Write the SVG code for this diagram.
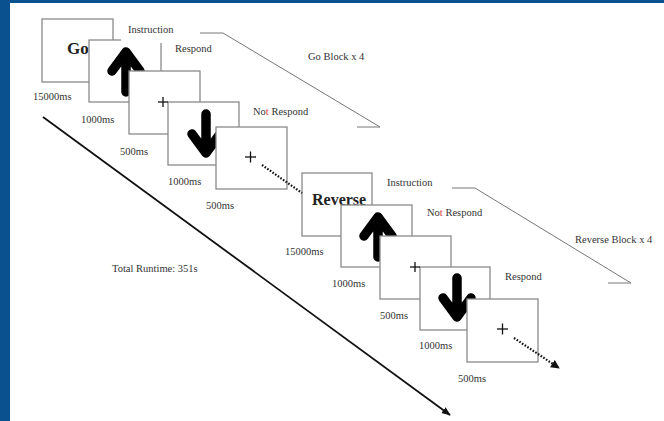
<svg xmlns="http://www.w3.org/2000/svg" width="664" height="421" viewBox="0 0 664 421">
<defs>
<style>
.box{fill:#fff;stroke:#8a8a8a;stroke-width:1.3}
.t{font-family:"Liberation Serif","Times New Roman",serif;font-size:10.5px;fill:#333}
.big{font-family:"Liberation Serif","Times New Roman",serif;font-weight:bold;fill:#222}
.arr{fill:none;stroke:#000;stroke-width:9.5;stroke-linecap:round;stroke-linejoin:round}
.plus{stroke:#111;stroke-width:1.3}
.br{fill:none;stroke:#777;stroke-width:1}
.dot{fill:none;stroke:#111;stroke-width:2.2;stroke-dasharray:1.6 1.6}
.red{fill:#e23b3b}
</style>
<marker id="ah" viewBox="0 0 10 10" refX="9" refY="5" markerWidth="4" markerHeight="4" orient="auto">
<path d="M0,0 L10,5 L0,10 z" fill="#111"/>
</marker>
<marker id="ah2" viewBox="0 0 10 10" refX="9" refY="5" markerWidth="5" markerHeight="5" orient="auto">
<path d="M0,1 L10,5 L0,9 z" fill="#111"/>
</marker>
</defs>
<rect x="0" y="0" width="664" height="421" fill="#fff"/>
<rect x="0" y="0" width="664" height="3" fill="#0a5190"/>
<rect x="0" y="0" width="10" height="421" fill="#0a5190"/>

<g id="go-block">
<g id="go-instruction">
<rect class="box" x="42" y="19" width="71" height="63"/>
<text class="big" x="67" y="54" font-size="17">Go</text>
<text class="t" x="33" y="100">15000ms</text>
</g>
<g id="go-up">
<rect class="box" x="89" y="40" width="72" height="62"/>
<rect x="121" y="16" width="78" height="27" fill="#fff"/>
<text class="t" x="128" y="33">Instruction</text>
<path class="arr" d="M126,92 L126,53 M112,71 L126,52 L140,71"/>
<text class="t" x="175" y="52">Respond</text>
<text class="t" x="81" y="123">1000ms</text>
</g>
<g id="go-fix1">
<rect class="box" x="129" y="71" width="71" height="63"/>
<text class="t" x="120" y="155">500ms</text>
</g>
<g id="go-down">
<rect class="box" x="168" y="102" width="71" height="63"/>
<line class="plus" x1="158" y1="102" x2="168" y2="102"/>
<line class="plus" x1="163" y1="97" x2="163" y2="107"/>
<path class="arr" d="M206,114 L206,152 M192,134 L206,153 L220,134"/>
<text class="t" x="253" y="115">No<tspan class="red">t</tspan> Respond</text>
<text class="t" x="168" y="185">1000ms</text>
</g>
<g id="go-fix2">
<rect class="box" x="216" y="127" width="71" height="62"/>
<line class="plus" x1="245" y1="157" x2="256" y2="157"/>
<line class="plus" x1="250.5" y1="151.5" x2="250.5" y2="162.5"/>
<text class="t" x="206" y="209">500ms</text>
</g>
<text class="t" x="308" y="60">Go Block x 4</text>
</g>

<g id="reverse-block">
<g id="rev-instruction">
<rect class="box" x="302" y="173" width="70" height="63"/>
<text class="big" x="312" y="205" font-size="16">Reverse</text>
<text class="t" x="387" y="186">Instruction</text>
<text class="t" x="285" y="255">15000ms</text>
</g>
<g id="rev-up">
<rect class="box" x="341" y="205" width="71" height="62"/>
<path class="arr" d="M378,257 L378,218 M364,236 L378,217 L392,236"/>
<text class="t" x="427" y="216">No<tspan class="red">t</tspan> Respond</text>
<text class="t" x="332" y="287">1000ms</text>
</g>
<g id="rev-fix1">
<rect class="box" x="380" y="236" width="71" height="63"/>
<text class="t" x="380" y="319">500ms</text>
</g>
<g id="rev-down">
<rect class="box" x="420" y="267" width="70" height="63"/>
<line class="plus" x1="410" y1="267" x2="420" y2="267"/>
<line class="plus" x1="415" y1="262" x2="415" y2="272"/>
<path class="arr" d="M457,278 L457,316 M443,298 L457,317 L471,298"/>
<text class="t" x="505" y="280">Respond</text>
<text class="t" x="419" y="349">1000ms</text>
</g>
<g id="rev-fix2">
<rect class="box" x="467" y="299" width="71" height="63"/>
<line class="plus" x1="497" y1="329" x2="508" y2="329"/>
<line class="plus" x1="502.5" y1="323.5" x2="502.5" y2="334.5"/>
<text class="t" x="458" y="382">500ms</text>
</g>
<text class="t" x="575" y="243">Reverse Block x 4</text>
</g>

<text class="t" x="112" y="272">Total Runtime: 351s</text>

<g id="connectors">
<path class="br" d="M200,33 L223,33 L380,127 L357,127"/>
<path class="br" d="M452,188 L475,188 L631,283 L608,283"/>
<line x1="43" y1="117" x2="450" y2="415" stroke="#111" stroke-width="1.8" marker-end="url(#ah2)"/>
<line class="dot" x1="262" y1="165" x2="302" y2="193"/>
<line class="dot" x1="514" y1="338" x2="559" y2="368" marker-end="url(#ah)"/>
</g>
</svg>
